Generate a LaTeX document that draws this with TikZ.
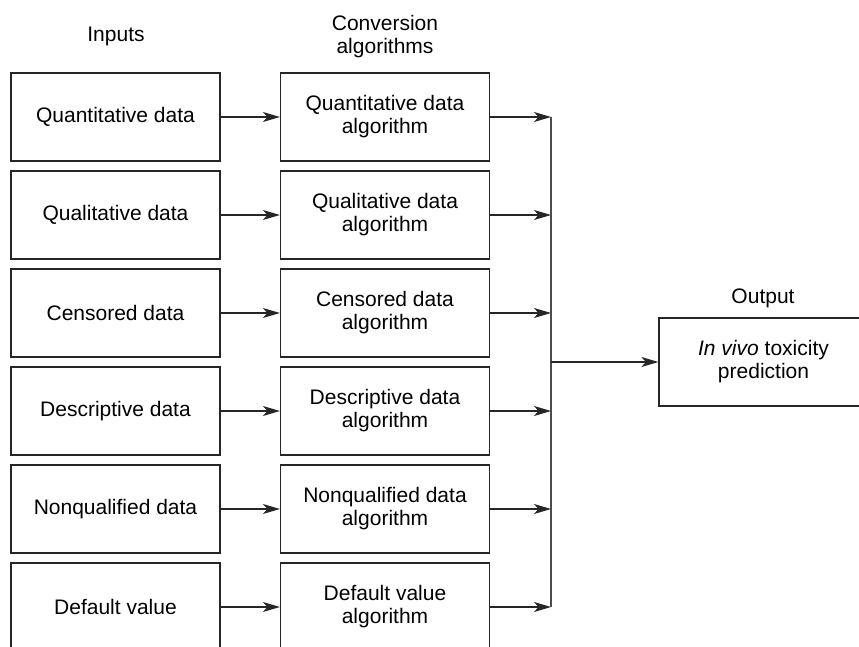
\documentclass[tikz,border=0pt]{standalone}
\usepackage{fontspec}
\setmainfont{Liberation Sans}
\usetikzlibrary{arrows.meta}
\begin{document}
\begin{tikzpicture}[x=1pt,y=-1pt,
  every node/.style={font=\fontsize{21}{23}\selectfont, text=black},
  box/.style={draw=black!85, line width=1.2pt, minimum width=209pt, minimum height=88pt,
    inner sep=0pt, align=center},
  head/.style={align=center},
  flow/.style={draw=black!85, line width=1.2pt, -{Stealth[length=17pt,width=10pt,inset=4.5pt]}},
  bus/.style={draw=black!70, line width=1.6pt}]
  \useasboundingbox (0,0) rectangle (859,647);
  \clip (0,0) rectangle (859,647);

  % column headings
  \node[head] (hin) at (116,36) {Inputs};
  \node[head] (halg) at (385,37) {Conversion\\algorithms};
  \node[head] (hout) at (763,298) {Output};

  % input boxes and their conversion algorithms
  \foreach \i/\inp/\alg in {
      1/Quantitative data/Quantitative data,
      2/Qualitative data/Qualitative data,
      3/Censored data/Censored data,
      4/Descriptive data/Descriptive data,
      5/Nonqualified data/Nonqualified data,
      6/Default value/Default value}{
    \pgfmathsetmacro{\yc}{117+98*(\i-1)}
    \node[box] (in\i) at (115.5,\yc) {\inp};
    \node[box] (alg\i) at (385,\yc) {\alg\\algorithm};
    \coordinate (b\i) at (551,\yc);
    \draw[flow] (in\i.east) -- (alg\i.west);
    \draw[flow] (alg\i.east) -- (b\i);
  }

  % collecting bus and output
  \draw[bus] (b1) -- (b6);
  \node[box] (out) at (763.5,362) {\textit{In vivo} toxicity\\prediction};
  \coordinate (bm) at (551,362);
  \draw[flow] (bm) -- (out.west);
\end{tikzpicture}
\end{document}
